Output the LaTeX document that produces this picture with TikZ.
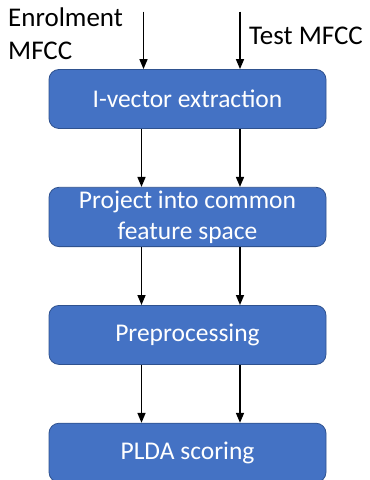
\documentclass[tikz,border=0pt]{standalone}
\usepackage{fontspec}
\setmainfont{Carlito}
\usetikzlibrary{positioning,arrows.meta}
\definecolor{boxblue}{HTML}{4472C4}
\definecolor{boxedge}{HTML}{2F528F}

\begin{document}
\begin{tikzpicture}[
    stagebox/.style={rectangle, rounded corners=10pt, fill=boxblue, draw=boxedge,
      line width=0.8pt, minimum width=277pt, minimum height=59pt, text=white,
      align=center, font=\fontsize{25.5}{31}\selectfont},
    inlabel/.style={inner sep=0pt, align=left, font=\fontsize{27}{33}\selectfont},
    flow/.style={-{Triangle[length=10pt,width=8pt]}, line width=1.6pt}]

  \useasboundingbox (0,0) rectangle (370pt,480pt);

  % Define nodes
  \node[stagebox] (ivec) at (187.5pt,381pt) {I-vector extraction};
  \node[stagebox, below=58pt of ivec] (proj) {Project into common\\feature space};
  \node[stagebox, below=58pt of proj] (prep) {Preprocessing};
  \node[stagebox, below=58pt of prep] (plda) {PLDA scoring};

  \coordinate (enrtop) at ([xshift=-44pt, yshift=57.5pt]ivec.north);
  \coordinate (testtop) at ([xshift=52.5pt, yshift=57.5pt]ivec.north);

  \node[inlabel, anchor=north west] (enrol) at (8pt,472pt) {Enrolment\\MFCC};
  \node[inlabel, anchor=base west] (test) at (249pt,435pt) {Test MFCC};

  \draw [flow] (enrtop) -- (enrtop |- ivec.north);
  \draw [flow] (testtop) -- (testtop |- ivec.north);

  \draw [flow] ([xshift=-46pt]ivec.south) -- ([xshift=-46pt]proj.north);
  \draw [flow] ([xshift=52.5pt]ivec.south) -- ([xshift=52.5pt]proj.north);
  \draw [flow] ([xshift=-46pt]proj.south) -- ([xshift=-46pt]prep.north);
  \draw [flow] ([xshift=52.5pt]proj.south) -- ([xshift=52.5pt]prep.north);
  \draw [flow] ([xshift=-46pt]prep.south) -- ([xshift=-46pt]plda.north);
  \draw [flow] ([xshift=52.5pt]prep.south) -- ([xshift=52.5pt]plda.north);

\end{tikzpicture}
\end{document}
